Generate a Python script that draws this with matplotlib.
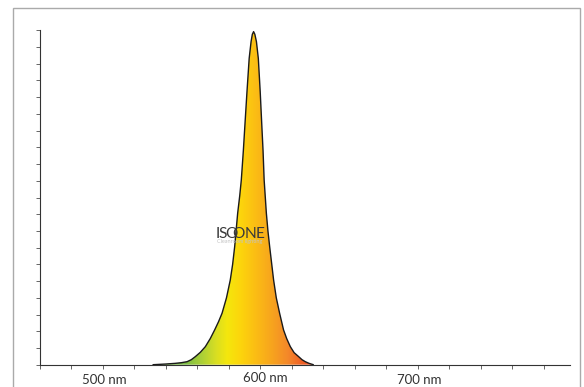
import numpy as np
import matplotlib
matplotlib.use("Agg")
import matplotlib.pyplot as plt
from matplotlib.colors import LinearSegmentedColormap
from matplotlib.patches import Rectangle

# spektrum lest av bildet (bolgelengde i nm, relativ intensitet)
wavelength = [532.0, 540.0, 546.0, 550.0, 553.6, 556.3, 558.8, 562.0, 565.2,
              568.3, 571.1, 573.6, 575.8, 578.6, 581.0, 582.5, 583.8, 585.7,
              587.0, 588.0, 589.3, 590.3, 591.6, 593.0, 594.2, 595.0, 595.8,
              596.6, 597.6, 598.8, 600.0, 601.0, 601.8, 602.5, 603.9, 604.9,
              606.0, 608.5, 610.2, 612.3, 614.8, 616.8, 619.1, 621.5, 624.4,
              626.5, 628.6, 631.0, 633.7]
intensity = [0.0, 0.002, 0.004, 0.006, 0.009, 0.015, 0.024, 0.037, 0.054,
             0.078, 0.104, 0.129, 0.154, 0.200, 0.253, 0.300, 0.353, 0.453,
             0.505, 0.552, 0.640, 0.717, 0.816, 0.916, 0.966, 0.988, 0.996,
             0.988, 0.966, 0.916, 0.816, 0.717, 0.640, 0.552, 0.453, 0.400,
             0.353, 0.253, 0.200, 0.154, 0.104, 0.078, 0.054, 0.036, 0.024,
             0.015, 0.009, 0.004, 0.0]

x_ticks = [460, 480, 500, 520, 540, 560, 580, 600, 620, 640, 660, 680, 700,
           720, 740, 760, 780]
label_pos = [500, 600, 700]
label_text = ["500 nm", "600 nm", "700 nm"]

# fargeovergang for fyllet (nm, farge)
grad_stops = [(532, "#6cb447"), (553, "#7dbe43"), (563, "#acd037"),
              (572, "#d9de22"), (579, "#f4e70d"), (588, "#fdd40c"),
              (598, "#fbbb15"), (608, "#f7a31e"), (618, "#f4872a"),
              (627, "#ef5f26"), (634, "#ec5224")]

W, H = 584, 387
fig = plt.figure(figsize=(W / 100, H / 100), dpi=100)
ax = fig.add_axes([39.5 / W, 22.3 / H, 530.5 / W, 334.4 / H])
ax.set_xlim(460, 796.5)
ax.set_ylim(0, 1.0)

# fyll med fargeovergang
lo, hi = grad_stops[0][0], grad_stops[-1][0]
cmap = LinearSegmentedColormap.from_list(
    "spec", [((w - lo) / (hi - lo), c) for w, c in grad_stops])
poly = ax.fill(wavelength, intensity, facecolor="none", edgecolor="none")[0]
grad = np.linspace(0, 1, 400).reshape(1, -1)
im = ax.imshow(grad, cmap=cmap, extent=(lo, hi, 0, 1), aspect="auto",
               origin="lower", zorder=1, interpolation="bilinear")
im.set_clip_path(poly)
ax.plot(wavelength, intensity, color="#1a1a1a", lw=1.0, zorder=3,
        solid_joinstyle="round", solid_capstyle="round")

# akser
for s in ["top", "right"]:
    ax.spines[s].set_visible(False)
for s in ["left", "bottom"]:
    ax.spines[s].set_color("#333333")
    ax.spines[s].set_linewidth(0.8)
ax.set_xticks(x_ticks)
ax.set_xticklabels([])
ax.set_yticks(np.arange(0, 1.0001, 0.05))
ax.set_yticklabels([])
ax.tick_params(direction="out", length=3.2, width=0.7, color="#666666")

offsets = {600: (5, 2)}
for p, t in zip(label_pos, label_text):
    dx, dy = offsets.get(p, (1.5, 0))
    ax.annotate(t, xy=(p, 0), xycoords=("data", "axes fraction"),
                xytext=(dx, -15.5 + dy), textcoords="offset pixels",
                ha="center", va="center", fontsize=9.5, family="Lato",
                color="#333333")

# logo
def px(x, y):
    return x / W, 1 - y / H

logo_kw = dict(fontsize=11.2, family="Lato", color="#3a3a3a",
               va="baseline", ha="left", zorder=5)
for ch, xl in [("I", 215.2), ("S", 218.3), ("O", 225.0), ("O", 231.8),
               ("N", 244.8), ("E", 256.0)]:
    fig.text(*px(xl, 237.5), ch, **logo_kw)
fig.text(*px(217, 243.0), "Cleanroom lighting", fontsize=4, family="Lato",
         color="#c4c4c4", va="baseline", ha="left")

# ramme
fig.add_artist(Rectangle((13.3 / W, -0.05), (579.5 - 13.3) / W,
                         0.05 + 1 - 8.3 / H, transform=fig.transFigure,
                         fill=False, edgecolor="#aaaaaa", lw=1.0))

fig.savefig("out.png", dpi=100)
